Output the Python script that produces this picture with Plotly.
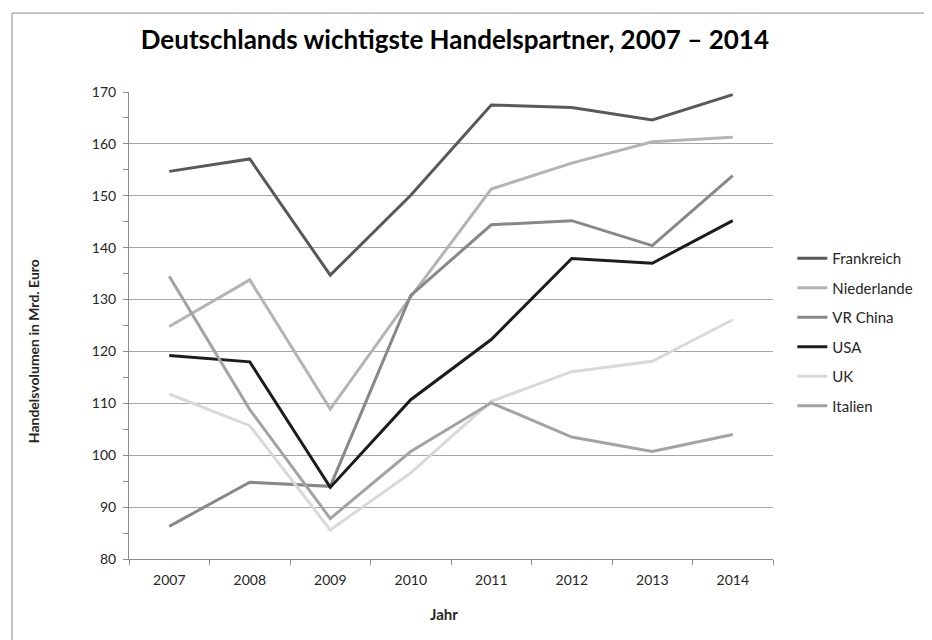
import plotly.graph_objects as go

# Data (Mrd. Euro)
years = ["2007", "2008", "2009", "2010", "2011", "2012", "2013", "2014"]
frankreich = [154.7, 157.1, 134.7, 150.1, 167.5, 167.0, 164.6, 169.5]
niederlande = [124.8, 133.8, 108.9, 130.5, 151.3, 156.3, 160.4, 161.3]
vr_china = [86.3, 94.8, 94.0, 130.8, 144.4, 145.2, 140.4, 153.9]
usa = [119.2, 118.0, 93.8, 110.7, 122.3, 137.9, 137.0, 145.2]
uk = [111.8, 105.7, 85.6, 96.6, 110.4, 116.1, 118.1, 126.1]
italien = [134.5, 108.8, 87.8, 100.7, 110.1, 103.5, 100.7, 104.0]

series = [
    ("Frankreich", frankreich, "#595959"),
    ("Niederlande", niederlande, "#b4b4b4"),
    ("VR China", vr_china, "#888888"),
    ("USA", usa, "#1c1c1c"),
    ("UK", uk, "#d9d9d9"),
    ("Italien", italien, "#a3a3a3"),
]

FONT = "Lato"

fig = go.Figure()
for i, (name, values, color) in enumerate(series):
    fig.add_trace(go.Scatter(
        x=years,
        y=values,
        mode="lines",
        name=name,
        legendgroup=f"g{i}",
        line=dict(color=color, width=3),
    ))

# Outer chart frame
fig.add_shape(
    type="rect", xref="paper", yref="paper",
    x0=-0.1817, x1=1.2438, y0=-0.2, y1=1.169,
    line=dict(color="#8c8c8c", width=1),
    fillcolor="rgba(0,0,0,0)", layer="below",
)

# Axis titles (placed like the Excel original)
fig.add_annotation(
    text="<b>Handelsvolumen in Mrd. Euro</b>",
    xref="paper", yref="paper", x=-0.149, y=0.445,
    xanchor="center", yanchor="middle",
    textangle=-90, showarrow=False,
    font=dict(family=FONT, size=14, color="#262626"),
)
fig.add_annotation(
    text="<b>Jahr</b>",
    xref="paper", yref="paper", x=0.489, y=-0.118,
    xanchor="center", yanchor="middle",
    showarrow=False,
    font=dict(family=FONT, size=15, color="#262626"),
)

fig.update_layout(
    width=932,
    height=640,
    paper_bgcolor="white",
    plot_bgcolor="white",
    margin=dict(l=121, r=167, t=84, b=89, autoexpand=False),
    font=dict(family=FONT, size=14, color="#262626"),
    title=dict(
        text="<b>Deutschlands wichtigste Handelspartner, 2007 – 2014</b>",
        font=dict(family=FONT, size=26, color="#000000"),
        xref="paper", x=0.506, xanchor="center",
        yref="container", y=1 - 32 / 640, yanchor="middle",
    ),
    showlegend=True,
    legend=dict(
        x=1.030, xanchor="left",
        y=0.6786, yanchor="top",
        font=dict(family=FONT, size=15, color="#262626"),
        tracegroupgap=7,
        bgcolor="rgba(0,0,0,0)",
    ),
    xaxis=dict(
        type="category",
        range=[-0.5, 7.5],
        automargin=False,
        tickson="boundaries",
        ticks="outside",
        ticklen=5,
        ticklabelstandoff=8,
        tickcolor="#8c8c8c",
        showline=True,
        linecolor="#8c8c8c",
        linewidth=1,
        showgrid=False,
        zeroline=False,
    ),
    yaxis=dict(
        automargin=False,
        range=[80, 170],
        dtick=10,
        tick0=80,
        ticks="outside",
        ticklen=5,
        ticklabelstandoff=4,
        tickcolor="#8c8c8c",
        showline=True,
        linecolor="#8c8c8c",
        linewidth=1,
        showgrid=True,
        gridcolor="#a6a6a6",
        gridwidth=1,
        zeroline=False,
        minor=dict(dtick=5, ticks="outside", ticklen=5, tickcolor="#8c8c8c", showgrid=False),
    ),
)

fig.write_html("out.html")
